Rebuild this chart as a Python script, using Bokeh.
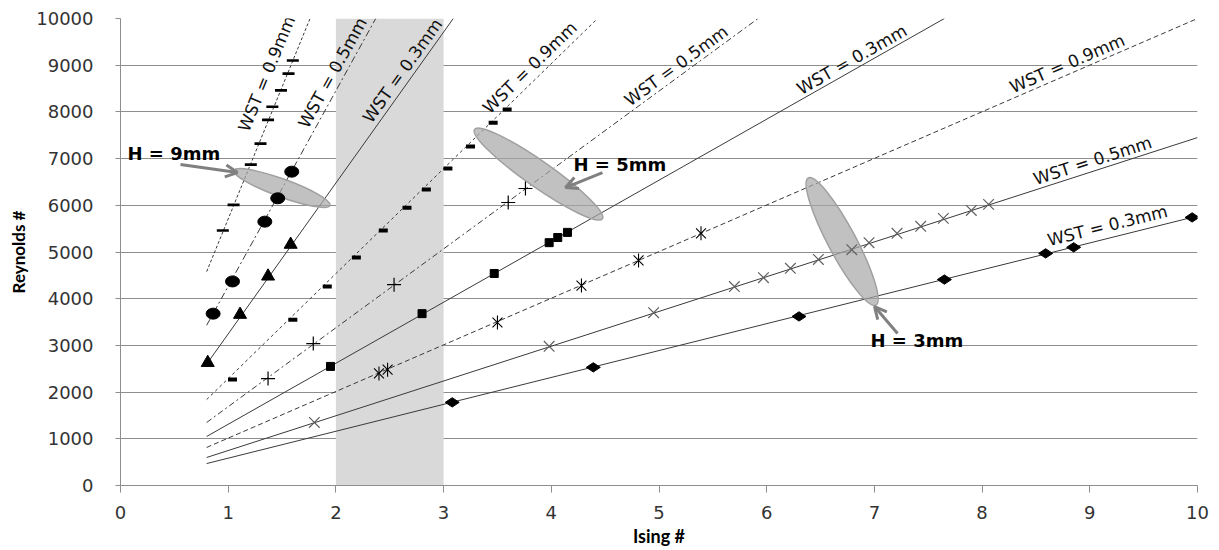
import math
from bokeh.plotting import figure
from bokeh.models import Range1d, BoxAnnotation, Arrow, OpenHead, FixedTicker
from bokeh.core.properties import value
from bokeh.embed import file_html
from bokeh.resources import INLINE

# ---------------- data ----------------
h9_w09_x = [0.95, 1.05, 1.21, 1.30, 1.37, 1.41, 1.49, 1.56, 1.60]
h9_w09_y = [5460, 6010, 6870, 7320, 7830, 8110, 8460, 8820, 9100]
h9_w05_x = [0.86, 1.04, 1.34, 1.46, 1.59]
h9_w05_y = [3680, 4370, 5650, 6150, 6720]
h9_w03_x = [0.81, 1.11, 1.37, 1.58]
h9_w03_y = [2630, 3660, 4480, 5160]
h5_w09_x = [1.04, 1.60, 1.92, 2.19, 2.44, 2.66, 2.84, 3.04, 3.25, 3.46, 3.59]
h5_w09_y = [2270, 3550, 4260, 4880, 5460, 5950, 6340, 6790, 7260, 7770, 8050]
h5_w05_x = [1.37, 1.79, 2.54, 3.60, 3.76]
h5_w05_y = [2290, 3040, 4300, 6060, 6360]
h5_w03_x = [1.95, 2.80, 3.47, 3.98, 4.06, 4.15]
h5_w03_y = [2550, 3680, 4540, 5200, 5310, 5420]
h3_w09_x = [2.40, 2.48, 3.50, 4.28, 4.81, 5.39]
h3_w09_y = [2400, 2480, 3490, 4280, 4820, 5400]
h3_w05_x = [1.80, 3.98, 4.95, 5.70, 5.97, 6.22, 6.48, 6.79, 6.95, 7.21, 7.43, 7.64, 7.90, 8.06]
h3_w05_y = [1350, 2980, 3700, 4260, 4450, 4650, 4840, 5050, 5200, 5400, 5550, 5720, 5890, 6020]
h3_w03_x = [3.08, 4.39, 6.30, 7.65, 8.59, 8.85, 9.95]
h3_w03_y = [1780, 2530, 3620, 4410, 4970, 5100, 5740]

# trend lines (order: H9 .9/.5/.3, H5 .9/.5/.3, H3 .9/.5/.3)
trend_x0 = [0.8, 0.8, 0.8, 0.8, 0.8, 0.8, 0.8, 0.8, 0.8]
trend_y0 = [4580, 3430, 2600, 1840, 1350, 1050, 815, 600, 470]
trend_x1 = [1.76, 2.37, 3.09, 4.43, 5.92, 7.65, 10.0, 10.0, 10.0]
trend_y1 = [10000, 10000, 10000, 10000, 10000, 10000, 10000, 7450, 5770]

wst_text = ["WST = 0.9mm", "WST = 0.5mm", "WST = 0.3mm"] * 3
wst_x = [1.356, 1.968, 2.618, 3.80, 5.16, 6.79, 8.79, 9.025, 9.164]
wst_y = [8820, 8840, 8885, 8950, 8990, 9120, 9035, 6958, 5567]

h_text = ["H = 9mm", "H = 5mm", "H = 3mm"]
h_x = [0.065, 4.206, 6.964]
h_y = [7108, 6873, 3115]

ell_x = [1.50, 3.881, 6.70]
ell_y = [6370, 6669, 5224]
arrow_x0 = [0.557, 4.475, 7.215]
arrow_y0 = [6873, 6701, 3254]
arrow_x1 = [1.086, 4.132, 7.001]
arrow_y1 = [6701, 6380, 3832]

x_ticks = list(range(0, 11))
y_ticks = list(range(0, 10001, 1000))
band = [2, 3]

# ---------------- styles ----------------
FW, FH = 1077, 467
BLK = dict(line_color="black", fill_color="black")
series = [
    (h9_w09_x, h9_w09_y, [dict(marker="dash", size=12, line_width=2.6, **BLK)], "3 2"),
    (h9_w05_x, h9_w05_y, "ellipse", "7 3 2 3"),
    (h9_w03_x, h9_w03_y, [dict(marker="triangle", size=13, **BLK)], "solid"),
    (h5_w09_x, h5_w09_y, [dict(marker="dash", size=9, line_width=4, **BLK)], "3 3"),
    (h5_w05_x, h5_w05_y, [dict(marker="cross", size=14, line_width=1.2, line_color="black")], "6 3 2 3"),
    (h5_w03_x, h5_w03_y, [dict(marker="square", size=8, **BLK)], "solid"),
    (h3_w09_x, h3_w09_y, [dict(marker="x", size=14, line_width=1.1, line_color="black"),
                          dict(marker="dash", size=14, angle=90, angle_units="deg", line_width=1.1,
                               line_color="black")], "5 3"),
    (h3_w05_x, h3_w05_y, [dict(marker="x", size=15, line_width=1.2, line_color="#606060")], "solid"),
    (h3_w03_x, h3_w03_y, [dict(marker="diamond", size=14, angle=90, angle_units="deg", **BLK)], "solid"),
]

p = figure(frame_width=FW, frame_height=FH, output_backend="svg", toolbar_location=None,
           x_range=Range1d(0, 10), y_range=Range1d(0, 10000),
           min_border_left=120, min_border_top=18, min_border_right=14, min_border_bottom=57)
p.outline_line_color = None
p.xgrid.grid_line_color = None
p.ygrid.grid_line_color = "#8e8e8e"
p.ygrid.grid_line_width = 1

for ax in (p.xaxis[0], p.yaxis[0]):
    ax.axis_line_color = "#8e8e8e"
    ax.major_tick_line_color = "#8e8e8e"
    ax.minor_tick_line_color = None
    ax.major_tick_in = 0
    ax.major_label_text_font = "DejaVu Sans"
    ax.major_label_text_font_size = "18px"
    ax.major_label_text_color = "#333333"
    ax.axis_label_text_font = "Lato"
    ax.axis_label_text_font_style = "bold"
    ax.axis_label_text_color = "black"

p.xaxis.ticker = FixedTicker(ticks=x_ticks)
p.yaxis.ticker = FixedTicker(ticks=y_ticks)
p.xaxis.major_tick_out = 7
p.yaxis.major_tick_out = 5
p.xaxis.major_label_standoff = 13
p.yaxis.major_label_standoff = 22
p.xaxis.axis_label = "Ising #"
p.yaxis.axis_label = "Reynolds #"
p.xaxis.axis_label_text_font_size = "18px"
p.yaxis.axis_label_text_font_size = "17px"
p.xaxis.axis_label_standoff = 3
p.yaxis.axis_label_standoff = 4

p.add_layout(BoxAnnotation(left=band[0], right=band[1], fill_color="#d9d9d9", fill_alpha=1.0,
                           line_color=None, level="underlay"))

# trend lines
for i, (sx, sy, mk, dash) in enumerate(series):
    p.line([trend_x0[i], trend_x1[i]], [trend_y0[i], trend_y1[i]],
           line_color="#3a3a3a", line_width=1, line_dash=dash)

# highlight ellipses
p.ellipse(x=ell_x, y=ell_y, width=[102, 156, 144], height=[18, 26, 28], angle=[-20, -35, -62],
          width_units="screen", height_units="screen", angle_units="deg",
          fill_color="#a6a6a6", fill_alpha=0.7, line_color="#a0a0a0", line_width=1.5)

# markers
for sx, sy, mk, dash in series:
    if mk == "ellipse":
        p.ellipse(x=sx, y=sy, width=14, height=11, width_units="screen", height_units="screen",
                  fill_color="black", line_color="black")
    else:
        for m in mk:
            p.scatter(sx, sy, **m)

# WST labels along the lines
angles = []
for i in range(9):
    dx = (trend_x1[i] - trend_x0[i]) * FW / 10.0
    dy = (trend_y1[i] - trend_y0[i]) * FH / 10000.0
    angles.append(math.atan2(dy, dx))
p.text(x=wst_x, y=wst_y, text=wst_text, angle=angles, text_align="center", text_baseline="middle",
       text_font=value("DejaVu Sans"), text_font_size="17px", text_color="#111111")

# H labels
p.text(x=h_x, y=h_y, text=h_text, text_align="left", text_baseline="middle",
       text_font=value("DejaVu Sans"), text_font_style="bold", text_font_size="18px", text_color="black")

for i in range(3):
    p.add_layout(Arrow(end=OpenHead(size=12, line_width=3, line_color="#808080"),
                       x_start=arrow_x0[i], y_start=arrow_y0[i], x_end=arrow_x1[i], y_end=arrow_y1[i],
                       line_color="#808080", line_width=3))

open("out.html", "w").write(file_html(p, INLINE))
